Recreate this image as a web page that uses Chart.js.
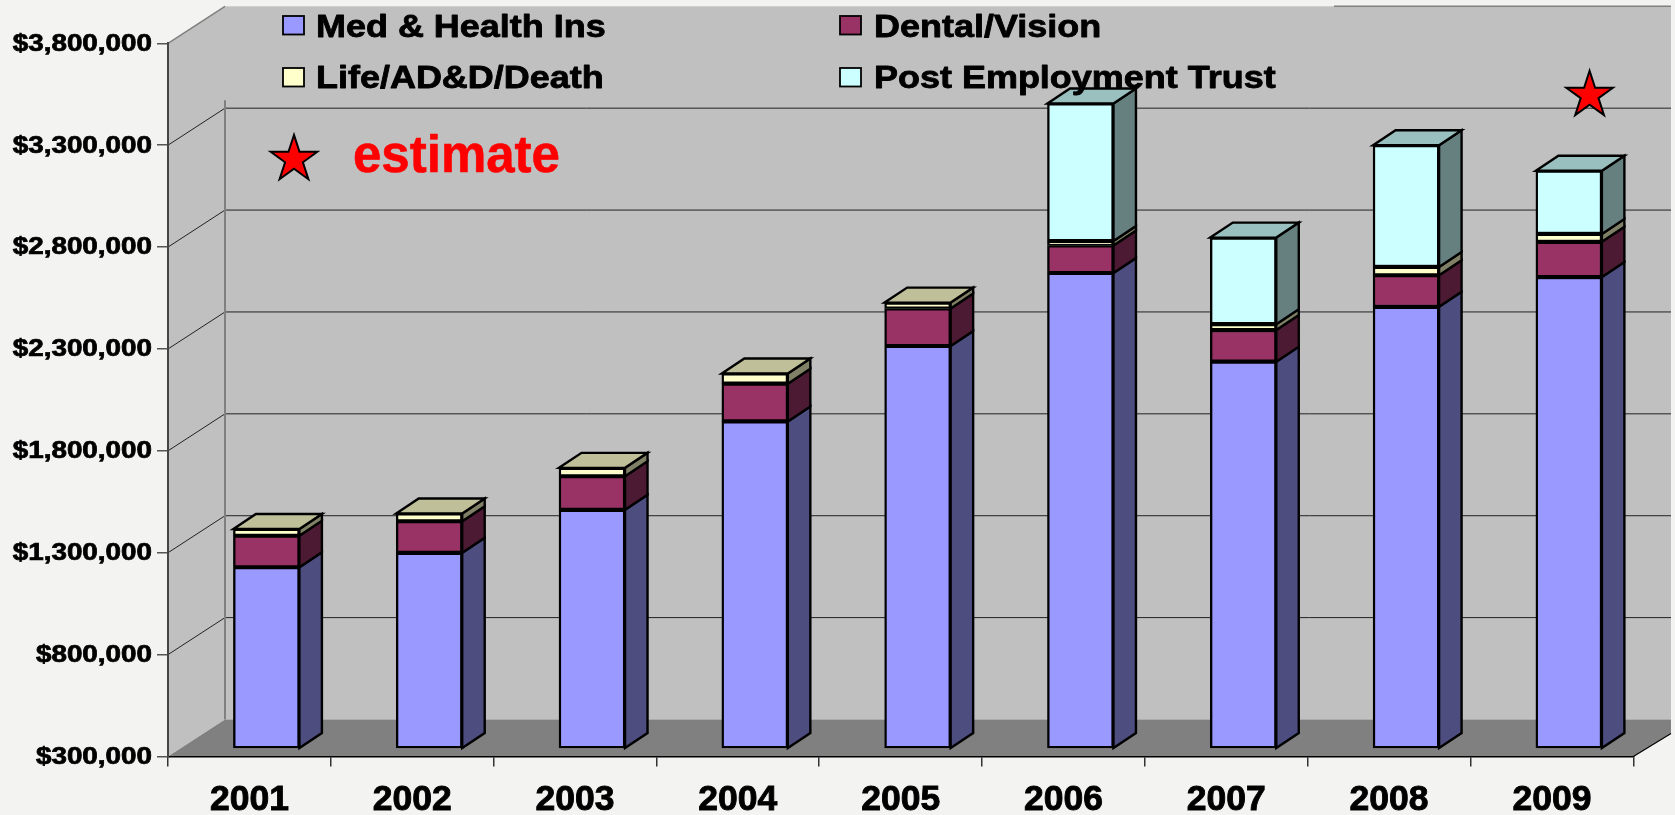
<!DOCTYPE html>
<html>
<head>
<meta charset="utf-8">
<style>html,body{margin:0;padding:0;background:#f3f3f1;overflow:hidden}canvas{display:block}</style>
<script src="https://cdn.jsdelivr.net/npm/chart.js@4"></script>
</head>
<body>
<canvas id="c" width="1675" height="815"></canvas>
<script>
const years = ['2001','2002','2003','2004','2005','2006','2007','2008','2009'];
const medHealth = [1177000,1248000,1459000,1893000,2263000,2621000,2186000,2455000,2601000];
const dentalVision = [155000,155000,165000,185000,184000,135000,155000,155000,173000];
const lifeAdd = [33000,38000,41000,50000,29000,22000,29000,41000,39000];
const postEmployment = [null,null,null,null,null,675000,425000,597000,310000];
const seriesNames = ['Med & Health Ins','Dental/Vision','Life/AD&D/Death','Post Employment Trust'];
const estimateYear = '2009';
const estimateValue = 3545000;
const axisMin = 300000, axisMax = 3800000, axisStep = 500000;

const FONT = '"Liberation Sans", Arial, sans-serif';
const wall = {dx:57, dy:-37, right:1671};
const bar3d = {offX:17, offY:-10.5, dx:22.5, dy:-15};

function poly(ctx, pts, fill, stroke, lw){
  ctx.beginPath();
  pts.forEach((p,i)=> i ? ctx.lineTo(p[0],p[1]) : ctx.moveTo(p[0],p[1]));
  ctx.closePath();
  if(fill){ctx.fillStyle=fill;ctx.fill();}
  if(stroke){ctx.strokeStyle=stroke;ctx.lineWidth=lw;ctx.lineJoin='miter';ctx.stroke();}
}
function star(ctx,cx,cy,R){
  const pts=[];
  for(let i=0;i<10;i++){
    const r=i%2?R*0.382:R, a=-Math.PI/2+i*Math.PI/5;
    pts.push([cx+r*Math.cos(a),cy+r*Math.sin(a)]);
  }
  poly(ctx,pts,'#ff0000','#000',2);
}
function stretchedText(ctx,text,x,base,size,sx,color,weight){
  ctx.save();
  ctx.translate(x,base);ctx.scale(sx,1);
  ctx.font='bold '+size+'px '+FONT;
  ctx.fillStyle=color;ctx.textAlign='left';ctx.textBaseline='alphabetic';
  ctx.fillText(text,0,0);
  ctx.strokeStyle=color;ctx.lineWidth=weight;ctx.lineJoin='round';
  ctx.strokeText(text,0,0);
  ctx.restore();
}

const walls = {
  id:'walls',
  beforeDraw(chart){
    const {ctx,scales:{x,y}}=chart;
    const l=x.left, r=x.right, b=y.bottom, t=y.top, R=wall.right;
    const bt=t+wall.dy, bb=b+wall.dy, bl=l+wall.dx;
    ctx.save();
    ctx.fillStyle='#f3f3f1';ctx.fillRect(0,0,chart.width,chart.height);
    // side and back walls
    poly(ctx,[[l,b],[bl,bb],[bl,bt],[l,t]],'#c0c0c0');
    ctx.fillStyle='#c0c0c0';ctx.fillRect(bl,bt,R-bl,bb-bt);
    // floor
    poly(ctx,[[l,b],[bl,bb],[R,bb],[R,b-23],[r,b]],'#808080');
    // grid lines on side and back walls
    y.ticks.forEach(tk=>{
      const py=y.getPixelForValue(tk.value);
      if(tk.value===axisMin) return;
      ctx.lineWidth=1;
      if(tk.value===axisMax){
        ctx.strokeStyle='#808080';ctx.lineWidth=1.5;
        ctx.beginPath();ctx.moveTo(l,py);ctx.lineTo(bl,py+wall.dy);ctx.stroke();
        ctx.beginPath();ctx.moveTo(1334,py+wall.dy);ctx.lineTo(R,py+wall.dy);ctx.stroke();
        return;
      }
      ctx.strokeStyle='#222';
      ctx.beginPath();ctx.moveTo(l,py);ctx.lineTo(bl,py+wall.dy);ctx.lineTo(R,py+wall.dy);ctx.stroke();
    });
    // back wall left edge
    ctx.strokeStyle='#808080';ctx.lineWidth=2;
    ctx.beginPath();ctx.moveTo(bl,y.getPixelForValue(3300000)+wall.dy-8);ctx.lineTo(bl,bb);ctx.stroke();
    // floor right edge
    ctx.strokeStyle='#000';ctx.lineWidth=1.2;
    ctx.beginPath();ctx.moveTo(r,b);ctx.lineTo(R,b-23);ctx.stroke();
    ctx.restore();
    // widen the value labels like the reference
    const ys=chart.scales.y;
    if(!ys._wide){
      ys._wide=true;
      const orig=ys.drawLabels;
      ys.drawLabels=function(a){
        const anchor=this.right-16;
        ctx.save();ctx.translate(anchor,1);ctx.scale(1.21,1);ctx.translate(-anchor,0);
        orig.call(this,a);
        ctx.restore();
      };
    }
  }
};

const bars3d = {
  id:'bars3d',
  beforeDatasetsDraw(chart){
    const ctx=chart.ctx;
    ctx.save();
    ctx.translate(bar3d.offX,bar3d.offY);
    const {dx,dy}=bar3d;
    years.forEach((_,i)=>{
      let top=null;
      chart.data.datasets.forEach((ds,di)=>{
        if(ds.data[i]==null) return;
        const el=chart.getDatasetMeta(di).data[i];
        const xr=el.x+el.width/2;
        poly(ctx,[[xr,el.y],[xr+dx,el.y+dy],[xr+dx,el.base+dy],[xr,el.base]],ds.sideColor,'#000',2.4);
        top={el,ds};
      });
      if(top){
        const {el,ds}=top, xl=el.x-el.width/2, xr=el.x+el.width/2;
        poly(ctx,[[xl,el.y],[xl+dx,el.y+dy],[xr+dx,el.y+dy],[xr,el.y]],ds.topColor,'#000',2.4);
      }
    });
  },
  afterDatasetsDraw(chart){
    chart.ctx.restore();
  }
};

const overlay = {
  id:'overlay',
  afterDraw(chart){
    const {ctx,scales:{x,y}}=chart;
    ctx.save();
    const slots=[[283,16,316,37],[840,16,874,37],[283,68,316,87.5],[840,68,874,87.5]];
    chart.data.datasets.forEach((ds,i)=>{
      const s=slots[i];
      ctx.fillStyle=ds.backgroundColor;ctx.strokeStyle='#000';ctx.lineWidth=1.8;
      ctx.fillRect(s[0],s[1],21,18.5);ctx.strokeRect(s[0],s[1],21,18.5);
      stretchedText(ctx,ds.label,s[2],s[3],31,1.16,'#000',0.8);
    });
    star(ctx,294,159.4,24.5);
    stretchedText(ctx,'estimate',353,171.5,51,1.0,'#ff0000',0.6);
    star(ctx,x.getPixelForValue(years.indexOf(estimateYear))+37.7,y.getPixelForValue(estimateValue),24.5);
    ctx.restore();
  }
};

function ds(label,data,bg,side,top,extra){
  return Object.assign({label,data,backgroundColor:bg,sideColor:side,topColor:top,borderColor:'#000',borderWidth:2.4,borderSkipped:false,stack:'s',clip:false,barThickness:66},extra||{});
}

new Chart(document.getElementById('c'),{
  type:'bar',
  data:{
    labels:years,
    datasets:[
      ds(seriesNames[0],medHealth,'#9999ff','#4d4d80','#7373bf',{base:axisMin-10000}),
      ds(seriesNames[1],dentalVision,'#993366','#4d1a33','#732650'),
      ds(seriesNames[2],lifeAdd,'#ffffcc','#808066','#bfbf99'),
      ds(seriesNames[3],postEmployment,'#ccffff','#668080','#99bfbf')
    ]
  },
  options:{
    responsive:false,animation:false,
    layout:{autoPadding:false,padding:{top:43.3,right:41.7,left:0,bottom:0}},
    plugins:{legend:{display:false},tooltip:{enabled:false},title:{display:false}},
    scales:{
      x:{
        stacked:true,offset:true,
        afterFit(s){s.height=58.5;},
        border:{color:'#000',width:1.5},
        grid:{display:true,drawOnChartArea:false,drawTicks:true,tickLength:10,offset:true,color:'#333',lineWidth:1.5},
        ticks:{color:'#000',padding:12.5,maxRotation:0,autoSkip:false,textStrokeColor:'#000',textStrokeWidth:0.9,font:{family:FONT,weight:'bold',size:35.5}}
      },
      y:{
        stacked:true,min:axisMin,max:axisMax,
        afterFit(s){s.width=168;},
        border:{color:'#444',width:2},
        grid:{display:true,drawOnChartArea:false,drawTicks:true,tickLength:11,color:'#555',lineWidth:1.5},
        ticks:{stepSize:axisStep,color:'#000',padding:5,textStrokeColor:'#000',textStrokeWidth:0.7,font:{family:FONT,weight:'bold',size:23},
          callback:v=>'$'+Number(v).toLocaleString('en-US')}
      }
    }
  },
  plugins:[walls,bars3d,overlay]
});
</script>
</body>
</html>
